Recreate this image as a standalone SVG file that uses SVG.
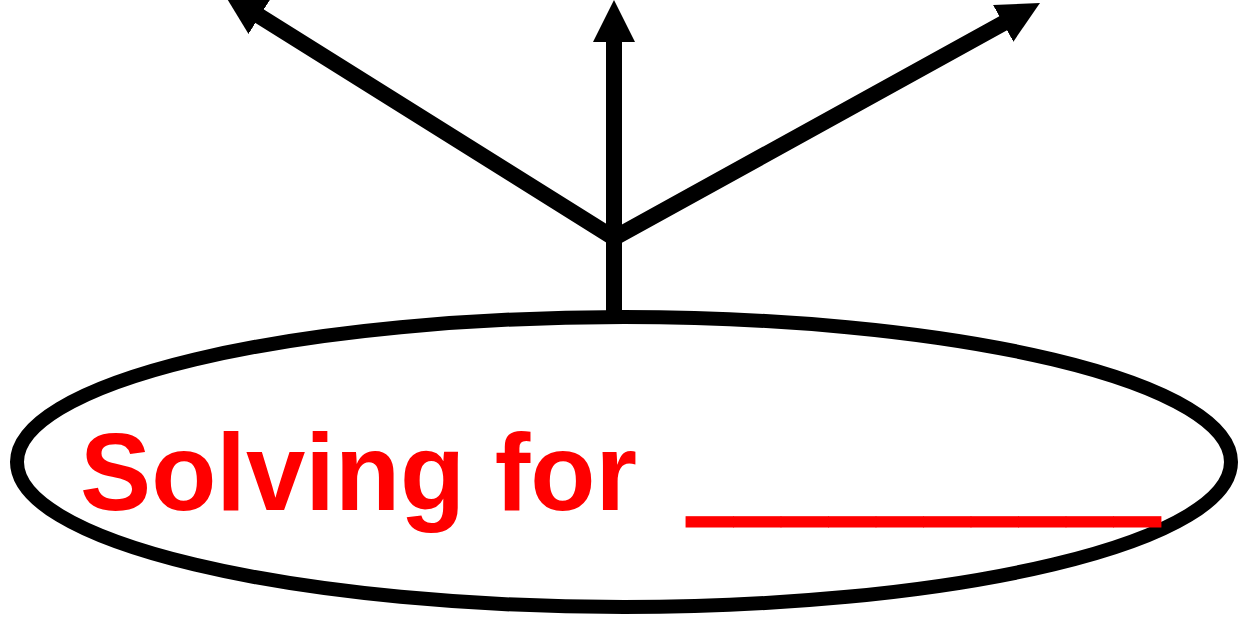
<svg xmlns="http://www.w3.org/2000/svg" width="1248" height="625" viewBox="0 0 1248 625">
<style>
.arrow{stroke:#000;stroke-width:16;fill:none;stroke-linecap:round}
.label{font-family:"Comic Sans MS","Liberation Sans","DejaVu Sans",sans-serif;font-weight:bold;font-size:110px;fill:#ff0000}
.blank{font-family:"DejaVu Sans",sans-serif;stroke:#ff0000;stroke-width:1}
</style>
<defs>
<marker id="head" markerUnits="userSpaceOnUse" markerWidth="42" markerHeight="42" refX="0" refY="21" orient="auto" viewBox="0 0 42 42">
<path d="M0,0 L42,21 L0,42 Z" fill="#000"/>
</marker>
</defs>
<rect width="1248" height="625" fill="#fff"/>
<g id="connectors">
<line class="arrow" x1="614" y1="318" x2="614" y2="42" marker-end="url(#head)" style="stroke-linecap:butt"/>
<line class="arrow" x1="614" y1="238" x2="259.7" y2="16.2" marker-end="url(#head)"/>
<line class="arrow" x1="614" y1="238" x2="1003.2" y2="23.3" marker-end="url(#head)"/>
</g>
<g id="node-solving">
<ellipse cx="624" cy="462" rx="607" ry="145" fill="none" stroke="#000" stroke-width="14"/>
<text class="label" x="80" y="510"><tspan textLength="557" lengthAdjust="spacingAndGlyphs">Solving for</tspan><tspan class="blank" x="686" y="501" textLength="475" lengthAdjust="spacingAndGlyphs">__________</tspan></text>
</g>
</svg>
